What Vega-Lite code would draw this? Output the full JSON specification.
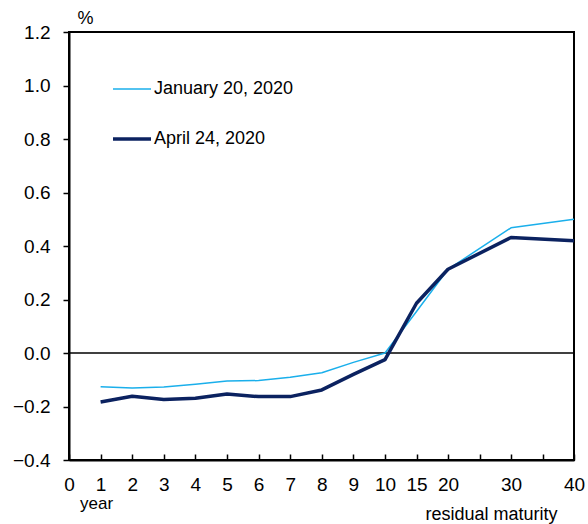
{
  "$schema": "https://vega.github.io/schema/vega-lite/v6.json",
  "width": 505,
  "height": 428,
  "autosize": "none",
  "padding": {"left": 69, "top": 32, "right": 14, "bottom": 64},
  "background": "white",
  "config": {
    "font": "Liberation Sans",
    "view": {"stroke": "black", "strokeWidth": 2},
    "axis": {"grid": false, "domainColor": "black", "domainWidth": 2, "tickColor": "black", "tickWidth": 1.5, "labelColor": "black", "labelFont": "Liberation Sans", "labelFontSize": 19, "titleFont": "Liberation Sans", "titleFontWeight": "normal", "titleColor": "black"},
    "legend": {"labelFont": "Liberation Sans", "labelFontSize": 18, "labelColor": "black"}
  },
  "encoding": {
    "x": {
      "field": "m", "type": "quantitative",
      "scale": {"domain": [0, 10, 40], "range": [0, 316, 505]},
      "axis": {
        "values": [0, 1, 2, 3, 4, 5, 6, 7, 8, 9, 10, 15, 20, 25, 30, 35, 40],
        "labelExpr": "datum.value == 25 || datum.value == 35 ? '' : datum.label",
        "labelOverlap": false,
        "labelFlush": false,
        "tickSize": -6,
        "labelPadding": 21,
        "title": "residual maturity",
        "titleFontSize": 18,
        "titleAnchor": null,
        "titleAlign": "center",
        "titleBaseline": "alphabetic",
        "titleX": 422,
        "titleY": 59
      }
    },
    "y": {
      "field": "v", "type": "quantitative",
      "scale": {"domain": [-0.4, 1.2], "nice": false, "zero": false},
      "axis": {
        "values": [-0.4, -0.2, 0, 0.2, 0.4, 0.6, 0.8, 1.0, 1.2],
        "format": ".1f",
        "tickSize": 6,
        "labelPadding": 13,
        "title": "%",
        "titleAngle": 0,
        "titleFontSize": 18,
        "titleAlign": "center",
        "titleBaseline": "middle",
        "titleAnchor": null,
        "titleX": 16,
        "titleY": -14
      }
    }
  },
  "layer": [
    {
      "data": {"values": [{"v": 0}]},
      "mark": {"type": "rule", "color": "black", "strokeWidth": 1.3},
      "encoding": {"x": null}
    },
    {
      "data": {
        "values": [
          {"m": 1, "v": -0.126, "s": "January 20, 2020"},
          {"m": 2, "v": -0.131, "s": "January 20, 2020"},
          {"m": 3, "v": -0.127, "s": "January 20, 2020"},
          {"m": 4, "v": -0.117, "s": "January 20, 2020"},
          {"m": 5, "v": -0.105, "s": "January 20, 2020"},
          {"m": 6, "v": -0.103, "s": "January 20, 2020"},
          {"m": 7, "v": -0.091, "s": "January 20, 2020"},
          {"m": 8, "v": -0.074, "s": "January 20, 2020"},
          {"m": 9, "v": -0.035, "s": "January 20, 2020"},
          {"m": 10, "v": 0.0, "s": "January 20, 2020"},
          {"m": 15, "v": 0.155, "s": "January 20, 2020"},
          {"m": 20, "v": 0.313, "s": "January 20, 2020"},
          {"m": 30, "v": 0.468, "s": "January 20, 2020"},
          {"m": 40, "v": 0.5, "s": "January 20, 2020"},
          {"m": 1, "v": -0.183, "s": "April 24, 2020"},
          {"m": 2, "v": -0.162, "s": "April 24, 2020"},
          {"m": 3, "v": -0.174, "s": "April 24, 2020"},
          {"m": 4, "v": -0.169, "s": "April 24, 2020"},
          {"m": 5, "v": -0.153, "s": "April 24, 2020"},
          {"m": 6, "v": -0.163, "s": "April 24, 2020"},
          {"m": 7, "v": -0.163, "s": "April 24, 2020"},
          {"m": 8, "v": -0.138, "s": "April 24, 2020"},
          {"m": 9, "v": -0.08, "s": "April 24, 2020"},
          {"m": 10, "v": -0.025, "s": "April 24, 2020"},
          {"m": 15, "v": 0.186, "s": "April 24, 2020"},
          {"m": 20, "v": 0.313, "s": "April 24, 2020"},
          {"m": 30, "v": 0.432, "s": "April 24, 2020"},
          {"m": 40, "v": 0.42, "s": "April 24, 2020"}
        ]
      },
      "mark": {"type": "line", "strokeCap": "butt", "strokeJoin": "round"},
      "encoding": {
        "color": {
          "field": "s", "type": "nominal",
          "scale": {"domain": ["January 20, 2020", "April 24, 2020"], "range": ["#1AAFEB", "#0B2260"]},
          "legend": {
            "title": null,
            "orient": "none",
            "legendX": 42,
            "legendY": 37,
            "symbolType": "stroke",
            "symbolSize": 1444,
            "labelOffset": 1,
            "rowPadding": 20,
            "padding": 0
          }
        },
        "strokeWidth": {
          "field": "s", "type": "nominal",
          "scale": {"domain": ["January 20, 2020", "April 24, 2020"], "range": [1.5, 3.5]},
          "legend": {
            "title": null,
            "orient": "none",
            "legendX": 42,
            "legendY": 37,
            "symbolType": "stroke",
            "symbolSize": 1444,
            "labelOffset": 1,
            "rowPadding": 20,
            "padding": 0
          }
        }
      }
    },
    {
      "data": {"values": [{"label": "year", "m": 1, "v": -0.4}]},
      "mark": {"type": "text", "fontSize": 17, "font": "Liberation Sans", "color": "black", "baseline": "alphabetic", "align": "center", "dy": 49, "dx": -4},
      "encoding": {"text": {"field": "label"}}
    }
  ]
}
